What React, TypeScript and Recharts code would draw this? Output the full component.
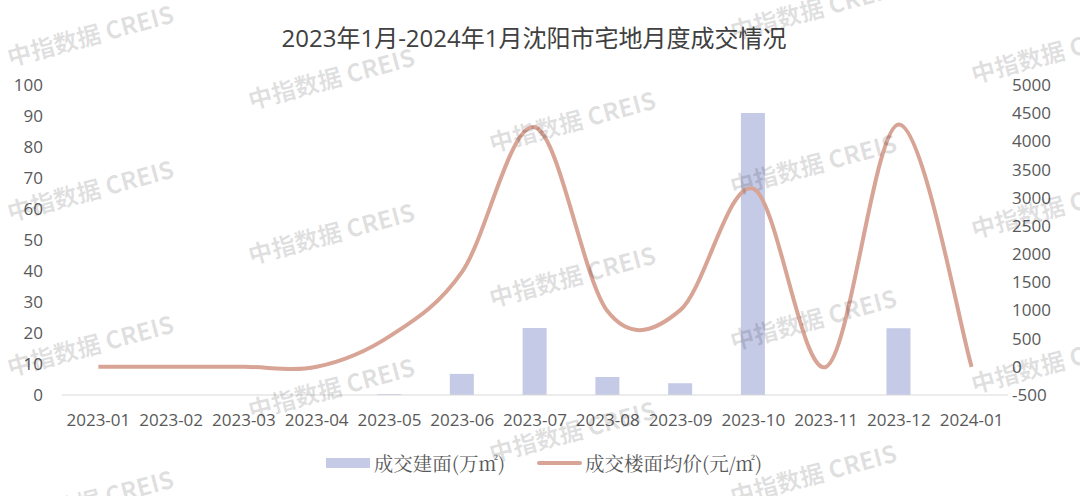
import React from "react"
import { Bar, ComposedChart, Legend, Line, XAxis, YAxis } from "recharts"

const months = [
  "2023-01", "2023-02", "2023-03", "2023-04", "2023-05", "2023-06", "2023-07",
  "2023-08", "2023-09", "2023-10", "2023-11", "2023-12", "2024-01",
]
const dealArea = [0, 0, 0, 0, 0.3, 6.8, 21.6, 5.8, 3.8, 91, 0, 21.5, 0]
const avgPrice = [0, 0, 0, 0, 540, 1690, 4250, 980, 1010, 3160, 0, 4300, 0]
const leftTicks = [0, 10, 20, 30, 40, 50, 60, 70, 80, 90, 100]
const rightTicks = [-500, 0, 500, 1000, 1500, 2000, 2500, 3000, 3500, 4000, 4500, 5000]

const TITLE = "2023年1月-2024年1月沈阳市宅地月度成交情况"
const AREA_NAME = "成交建面(万㎡)"
const PRICE_NAME = "成交楼面均价(元/㎡)"
const WATERMARK = "中指数据 CREIS"

const BAR_COLOR = "#C5CAE6"
const LINE_COLOR = "#D8A496"
const FONT = '"Open Sans", "Noto Sans CJK SC", sans-serif'

// Excel-style smoothed line (Catmull-Rom through every point)
function excelSmooth(context: any) {
  let pts: number[][] = []
  return {
    areaStart() {},
    areaEnd() {},
    lineStart() {
      pts = []
    },
    point(x: number, y: number) {
      pts.push([+x, +y])
    },
    lineEnd() {
      const n = pts.length
      if (!n) return
      context.moveTo(pts[0][0], pts[0][1])
      for (let i = 0; i < n - 1; i++) {
        const p0 = pts[i === 0 ? 0 : i - 1]
        const p1 = pts[i]
        const p2 = pts[i + 1]
        const p3 = pts[i + 2 < n ? i + 2 : n - 1]
        context.bezierCurveTo(
          p1[0] + (p2[0] - p0[0]) / 6,
          p1[1] + (p2[1] - p0[1]) / 6,
          p2[0] - (p3[0] - p1[0]) / 6,
          p2[1] - (p3[1] - p1[1]) / 6,
          p2[0],
          p2[1]
        )
      }
    },
  }
}

const data = months.map((m, i) => ({ month: m, area: dealArea[i], price: avgPrice[i] }))

function LegendContent({ payload }: any) {
  const items = [...(payload || [])].sort((a: any) => (a.type === "line" ? 1 : -1))
  return (
    <div style={{ display: "flex", justifyContent: "center", alignItems: "center", height: 24 }}>
      {items.map((it: any, i: number) => (
        <div key={i} style={{ display: "flex", alignItems: "center", marginLeft: i ? 32 : 0 }}>
          {it.type === "line" ? (
            <div style={{ width: 45, height: 4, borderRadius: 2, background: it.color, marginRight: 3 }} />
          ) : (
            <div style={{ width: 44, height: 10, background: it.color, marginRight: 4 }} />
          )}
          <span style={{ fontFamily: '"Noto Serif CJK SC", "DejaVu Serif", serif', fontSize: 19.5, color: "#595959" }}>
            {it.value}
          </span>
        </div>
      ))}
    </div>
  )
}

function Watermarks() {
  const marks: { x: number; y: number }[] = []
  for (let c = 0; c < 5; c++) {
    for (let r = -1; r < 4; r++) {
      const y = 38 + 43 * c + 155 * r
      if (y > -5 && y < 515) marks.push({ x: 91 + 241 * c, y })
    }
  }
  return (
    <svg width={1080} height={496} style={{ position: "absolute", left: 0, top: 0, pointerEvents: "none" }}>
      {marks.map((m, i) => (
        <text
          key={i}
          x={m.x}
          y={m.y}
          textAnchor="middle"
          dominantBaseline="middle"
          transform={`rotate(-15 ${m.x} ${m.y})`}
          fontFamily='"Noto Sans CJK SC", sans-serif'
          fontWeight="bold"
          fontSize={24}
          fill="#000"
          fillOpacity={0.12}
        >
          {WATERMARK}
        </text>
      ))}
    </svg>
  )
}

export default function App() {
  return (
    <div style={{ position: "absolute", left: 0, top: 0, width: 1080, height: 496, background: "#fff", overflow: "hidden" }}>
      <div
        style={{
          position: "absolute",
          left: 0,
          top: 25,
          width: 1068,
          textAlign: "center",
          fontFamily: FONT,
          fontSize: 24,
          lineHeight: "26px",
          color: "#404040",
        }}
      >
        {TITLE}
      </div>
      <ComposedChart width={1080} height={496} data={data} margin={{ top: 85, right: 0, bottom: 71, left: 0 }}>
        <XAxis
          dataKey="month"
          height={30}
          tickLine={false}
          tickSize={0}
          tickMargin={19}
          axisLine={{ stroke: "#D9D9D9", strokeWidth: 1 }}
          tick={{ fill: "#595959", fontSize: 17, fontFamily: FONT }}
          interval={0}
        />
        <YAxis
          yAxisId="left"
          width={62}
          domain={[0, 100]}
          ticks={leftTicks}
          axisLine={false}
          tickLine={false}
          tickSize={0}
          tickMargin={19}
          tick={{ fill: "#595959", fontSize: 17, fontFamily: FONT }}
          interval={0}
        />
        <YAxis
          yAxisId="right"
          orientation="right"
          width={72}
          domain={[-500, 5000]}
          ticks={rightTicks}
          axisLine={false}
          tickLine={false}
          tickSize={0}
          tickMargin={4}
          tick={{ fill: "#595959", fontSize: 17, fontFamily: FONT, textAnchor: "start" }}
          interval={0}
        />
        <Legend
          layout="horizontal"
          verticalAlign="middle"
          align="center"
          wrapperStyle={{ top: 451, left: 4, width: 1080 }}
          content={<LegendContent />}
        />
        <Bar yAxisId="left" dataKey="area" name={AREA_NAME} fill={BAR_COLOR} barSize={24} isAnimationActive={false} />
        <Line
          yAxisId="right"
          dataKey="price"
          name={PRICE_NAME}
          type={excelSmooth as any}
          stroke={LINE_COLOR}
          strokeWidth={4}
          dot={false}
          activeDot={false}
          isAnimationActive={false}
        />
      </ComposedChart>
      <Watermarks />
    </div>
  )
}
